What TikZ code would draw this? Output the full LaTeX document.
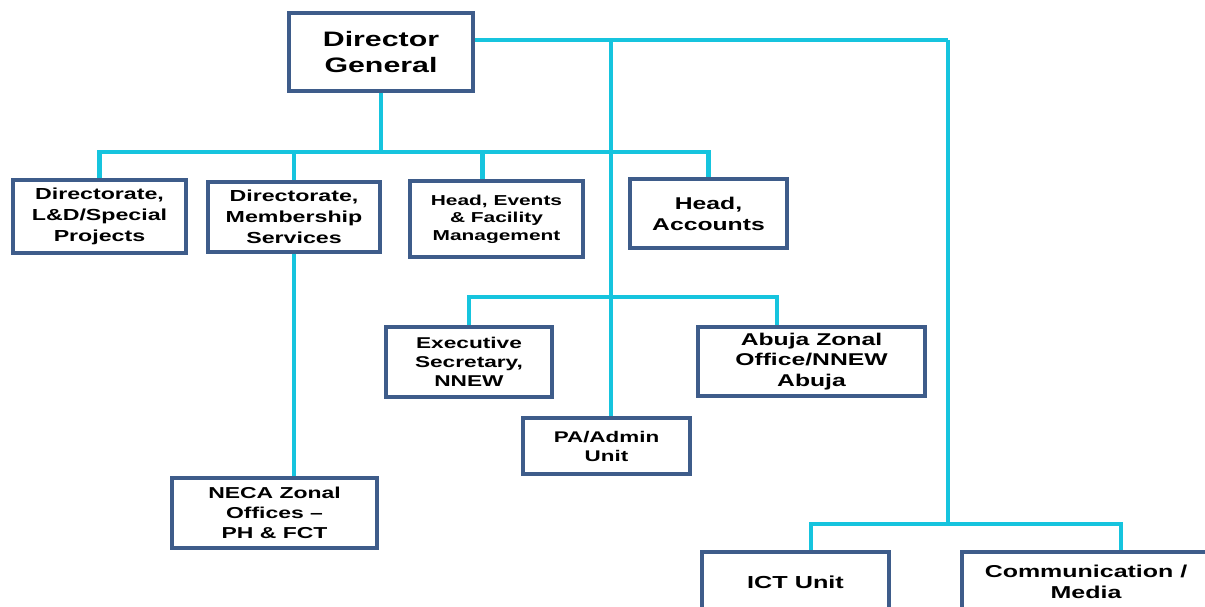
\documentclass[tikz,border=0pt]{standalone}
\usepackage{fontspec}
\setmainfont{Liberation Sans}[FakeStretch=1.45]
\definecolor{boxblue}{RGB}{62,92,138}
\definecolor{linkcyan}{RGB}{22,196,222}

\begin{document}
\begin{tikzpicture}[x=0.02cm, y=-0.02cm,
    unit/.style={draw=boxblue, line width=2pt, fill=white, align=center, inner sep=1pt},
    link/.style={draw=linkcyan, line width=2.4pt}]
      \useasboundingbox (0,0) rectangle (1205,607);
      \clip (0,0) rectangle (1205,607);

      \draw (381, 52) node [unit, minimum width=3.68cm, minimum height=1.56cm,
        font=\fontsize{11.9}{15.3}\selectfont\bfseries] (dg) {Director\\General};

      %%%%%%%%%%%%%%%%%%%%%%%%%%%%%%%%%%%%%%%%%%%%%%%%%%%%%%%%%%%%%%
      % First row
      %%%%%%%%%%%%%%%%%%%%%%%%%%%%%%%%%%%%%%%%%%%%%%%%%%%%%%%%%%%%%%
      \draw (99.5, 216.5) node [unit, minimum width=3.46cm, minimum height=1.46cm,
        font=\fontsize{9.1}{11.9}\selectfont\bfseries] (ld) {Directorate,\\L\&D/Special\\Projects};
      \draw (294, 217) node [unit, minimum width=3.44cm, minimum height=1.4cm,
        font=\fontsize{9.1}{11.9}\selectfont\bfseries] (ms) {Directorate,\\Membership\\Services};
      \draw (496.5, 219) node [unit, minimum width=3.46cm, minimum height=1.52cm,
        font=\fontsize{8.2}{9.9}\selectfont\bfseries] (ev) {Head, Events\\\& Facility\\Management};
      \draw (708.5, 213.5) node [unit, minimum width=3.14cm, minimum height=1.38cm,
        font=\fontsize{9.7}{11.9}\selectfont\bfseries] (ac) {Head,\\Accounts};

      \coordinate (bus1) at (381, 152);
      \draw [link] (dg.south) -- (bus1);
      \draw [link] (ld.north) |- (bus1) -| (ac.north);
      \draw [link] (ms.north) -- (ms.north |- bus1);
      \draw [link] ([xshift=-0.28cm]ev.north) -- ([xshift=-0.28cm]ev.north |- bus1);

      %%%%%%%%%%%%%%%%%%%%%%%%%%%%%%%%%%%%%%%%%%%%%%%%%%%%%%%%%%%%%%
      % Middle branch
      %%%%%%%%%%%%%%%%%%%%%%%%%%%%%%%%%%%%%%%%%%%%%%%%%%%%%%%%%%%%%%
      \draw (469, 362) node [unit, minimum width=3.32cm, minimum height=1.4cm,
        font=\fontsize{8.9}{10.8}\selectfont\bfseries] (es) {Executive\\Secretary,\\NNEW};
      \draw (811.5, 361.5) node [unit, minimum width=4.54cm, minimum height=1.38cm,
        font=\fontsize{9.7}{11.6}\selectfont\bfseries] (ab) {Abuja Zonal\\Office/NNEW\\Abuja};
      \draw (606.5, 446) node [unit, minimum width=3.34cm, minimum height=1.12cm,
        font=\fontsize{8.8}{10.8}\selectfont\bfseries] (pa) {PA/Admin\\Unit};
      \draw (274.5, 513) node [unit, minimum width=4.1cm, minimum height=1.4cm,
        font=\fontsize{9}{11.4}\selectfont\bfseries] (ne) {NECA Zonal\\Offices --\\PH \& FCT};

      \coordinate (j1) at (611, 40);
      \coordinate (j2) at (948, 40);
      \coordinate (bus2) at (611, 297);
      \draw [link] (dg.east |- j1) -- (j2);
      \draw [link] (j1) -- (j1 |- pa.north);
      \draw [link] (es.north) |- (bus2) -| ([xshift=-0.69cm]ab.north);
      \draw [link] (ms.south) -- (ms.south |- ne.north);

      %%%%%%%%%%%%%%%%%%%%%%%%%%%%%%%%%%%%%%%%%%%%%%%%%%%%%%%%%%%%%%
      % Right branch
      %%%%%%%%%%%%%%%%%%%%%%%%%%%%%%%%%%%%%%%%%%%%%%%%%%%%%%%%%%%%%%
      \draw (795.5, 582) node [unit, minimum width=3.74cm, minimum height=1.2cm,
        font=\fontsize{9.9}{11.9}\selectfont\bfseries] (ict) {ICT Unit};
      \draw (1086, 582) node [unit, minimum width=4.96cm, minimum height=1.2cm,
        font=\fontsize{9.8}{11.9}\selectfont\bfseries] (cm) {Communication /\\Media};

      \coordinate (bus3) at (948, 524);
      \draw [link] (j2) -- (bus3);
      \draw [link] ([xshift=0.31cm]ict.north) |- (bus3) -| ([xshift=0.7cm]cm.north);
    \end{tikzpicture}
\end{document}
